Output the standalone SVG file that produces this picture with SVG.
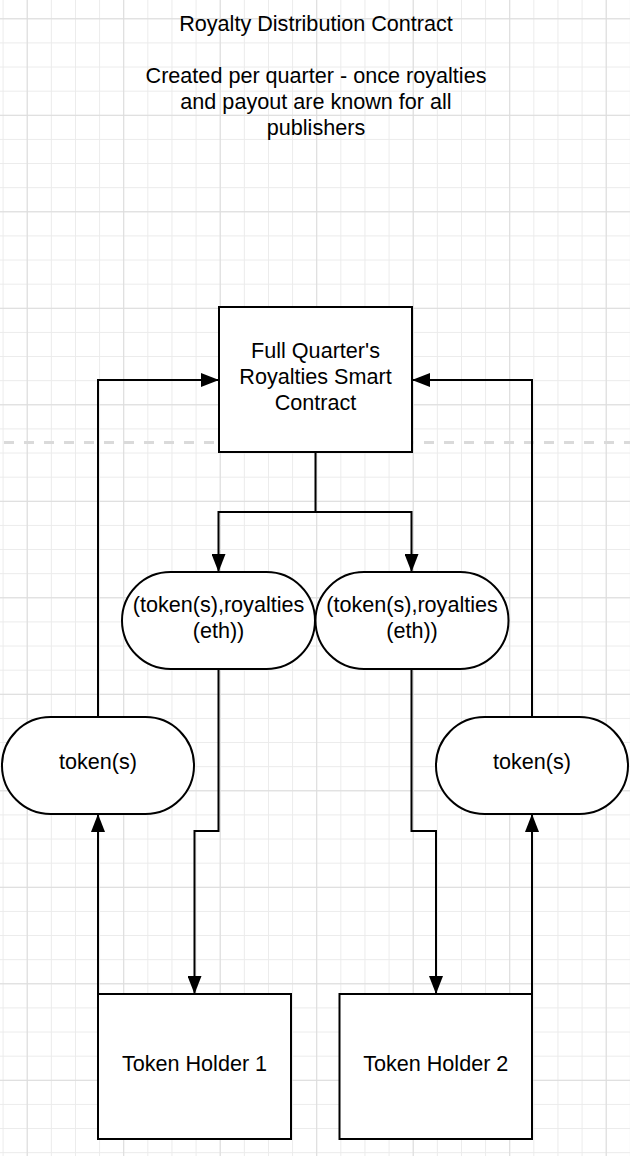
<svg xmlns="http://www.w3.org/2000/svg" width="630" height="1156" viewBox="0 0 630 1156">
  <defs>
    <style>
      .minor { stroke: #ebebeb; stroke-width: 1; }
      .major { stroke: #dcdcdc; stroke-width: 1; }
      .shape { fill: #ffffff; stroke: #000000; stroke-width: 2; }
      .conn { fill: none; stroke: #000000; stroke-width: 2; marker-end: url(#arrow); }
      .lbl { font-family: "Liberation Sans", Arial, sans-serif; font-size: 21.6px; fill: #000000; text-anchor: middle; }
    </style>
    <marker id="arrow" markerUnits="userSpaceOnUse" markerWidth="18" markerHeight="14" refX="18" refY="7" orient="auto">
      <path d="M0,0 L18,7 L0,14 z" fill="#000000"/>
    </marker>
    <pattern id="gridMinor" patternUnits="userSpaceOnUse" x="2.6" y="18.3" width="24.125" height="24.125">
      <path d="M0,0.5 H24.125 M0.5,0 V24.125" class="minor" fill="none"/>
    </pattern>
    <pattern id="gridMajor" patternUnits="userSpaceOnUse" x="26.7" y="18.3" width="96.5" height="96.5">
      <path d="M0,0.5 H96.5 M0.5,0 V96.5" class="major" fill="none"/>
    </pattern>
  </defs>

  <rect x="0" y="0" width="630" height="1156" fill="#ffffff"/>
  <rect x="0" y="0" width="630" height="1156" fill="url(#gridMinor)"/>
  <rect x="0" y="0" width="630" height="1156" fill="url(#gridMajor)"/>

  <line x1="4" y1="442.5" x2="630" y2="442.5" stroke="#dadada" stroke-width="3" stroke-dasharray="10 10"/>

  <g id="title">
    <text class="lbl" x="316" y="31">Royalty Distribution Contract</text>
    <text class="lbl" x="316" y="83">Created per quarter - once royalties</text>
    <text class="lbl" x="316" y="109">and payout are known for all</text>
    <text class="lbl" x="316" y="135">publishers</text>
  </g>

  <g id="connectors">
    <path class="conn" d="M98,717 V380 H219"/>
    <path class="conn" d="M532,717 V380 H412"/>
    <path class="conn" d="M315.5,452 V512 H218.5 V572"/>
    <path class="conn" d="M315.5,512 H411.5 V572"/>
    <path class="conn" d="M218.5,669 V831 H194.5 V994"/>
    <path class="conn" d="M411.5,669 V831 H436 V994"/>
    <path class="conn" d="M98,994 V814"/>
    <path class="conn" d="M532,994 V814"/>
  </g>

  <g id="contract">
    <rect class="shape" x="219" y="307" width="193" height="145"/>
    <text class="lbl" x="315.5" y="358">Full Quarter's</text>
    <text class="lbl" x="315.5" y="384">Royalties Smart</text>
    <text class="lbl" x="315.5" y="410">Contract</text>
  </g>

  <g id="payout1">
    <rect class="shape" x="122" y="572" width="193" height="97" rx="48.5" ry="48.5"/>
    <text class="lbl" x="218.5" y="612">(token(s),royalties</text>
    <text class="lbl" x="218.5" y="638">(eth))</text>
  </g>

  <g id="payout2">
    <rect class="shape" x="315.5" y="572" width="193" height="97" rx="48.5" ry="48.5"/>
    <text class="lbl" x="412" y="612">(token(s),royalties</text>
    <text class="lbl" x="412" y="638">(eth))</text>
  </g>

  <g id="tokens1">
    <rect class="shape" x="2" y="717" width="192" height="97" rx="48.5" ry="48.5"/>
    <text class="lbl" x="98" y="769">token(s)</text>
  </g>

  <g id="tokens2">
    <rect class="shape" x="436" y="717" width="192" height="97" rx="48.5" ry="48.5"/>
    <text class="lbl" x="532" y="769">token(s)</text>
  </g>

  <g id="holder1">
    <rect class="shape" x="98" y="994" width="193" height="145"/>
    <text class="lbl" x="194.5" y="1071">Token Holder 1</text>
  </g>

  <g id="holder2">
    <rect class="shape" x="339.5" y="994" width="192.5" height="145"/>
    <text class="lbl" x="435.75" y="1071">Token Holder 2</text>
  </g>
</svg>
